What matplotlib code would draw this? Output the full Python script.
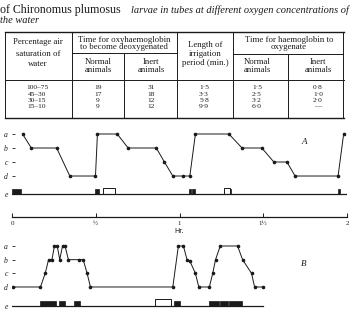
import matplotlib.pyplot as plt

W, H = 351, 318

# table values
pct_air = ["100–75", "45–30", "30–15", "15–10"]
deox_normal = ["19", "17", "9", "9"]
deox_inert = ["31", "18", "12", "12"]
irrigation = ["1·5", "3·3", "5·8", "9·9"]
oxy_normal = ["1·5", "2·5", "3·2", "6·0"]
oxy_inert = ["0·8", "1·0", "2·0", "—"]

# record A: time (min) and state (a=4, b=3, c=2, d=1)
a_time = [3.8, 6.9, 16.0, 20.7, 29.9, 30.6, 37.7, 41.6, 51.7, 54.6, 57.6,
          61.4, 63.7, 65.7, 77.7, 82.4, 89.5, 93.8, 98.5, 101.4, 116.8, 118.8]
a_level = [4, 3, 3, 1, 1, 4, 4, 3, 3, 2, 1, 1, 1, 4, 4, 3, 3, 2, 2, 1, 1, 4]
a_black = [(0, 3.3), (29.9, 1.2), (63.3, 0.8), (64.5, 0.9), (78.1, 0.5), (116.7, 0.8)]
a_open = [(32.7, 4.2), (75.8, 2.3)]

# record B
b_time = [0.5, 10.2, 11.9, 13.1, 14.3, 15.2, 16.2, 17.1, 18.1, 19.0,
          20.2, 24.0, 25.5, 26.9, 28.1, 57.6, 59.6, 61.4, 62.7, 63.7,
          65.7, 66.9, 70.7, 71.9, 72.9, 74.6, 80.8, 82.6, 85.8, 86.9, 90.0]
b_level = [1, 1, 2, 3, 3, 4, 4, 3, 4, 4, 3, 3, 3, 2, 1, 1, 4, 4, 3, 2.9,
           2, 1, 1, 2, 3, 4, 4, 3, 2, 1, 1]
b_black = [(10.2, 5.5), (16.9, 2.1), (22.1, 2.2), (57.9, 2.1), (70.7, 3.3),
           (74.5, 3.0), (77.9, 4.5)]
b_open = [(51.1, 5.7)]

hours = [0, 30, 60, 90, 120]
hour_labels = ["0", "½", "1", "1½", "2"]
levels = ["a", "b", "c", "d"]

serif = "Liberation Serif"
ink = "#1a1a1a"


def box(x0, y0, x1, y1):
    # pixel box (top-left origin) -> figure fractions
    return [x0 / W, 1 - y1 / H, (x1 - x0) / W, (y1 - y0) / H]


fig = plt.figure(figsize=(W / 100, H / 100), dpi=100)
bg = fig.add_axes([0, 0, 1, 1])
bg.set_xlim(0, W)
bg.set_ylim(H, 0)
bg.axis("off")

# caption
bg.text(0, 10, "of Chironomus plumosus", family=serif, fontsize=8.6,
        va="center", ha="left", color=ink)
bg.text(131, 10, "larvae in tubes at different oxygen concentrations of",
        family=serif, style="italic", fontsize=7.5, va="center", ha="left", color=ink)
bg.text(0, 20.5, "the water", family=serif, style="italic", fontsize=7.5,
        va="center", ha="left", color=ink)

# table rules
lw = 0.7
bg.plot([5, 344], [31.7, 31.7], color=ink, lw=1.0)
bg.plot([5, 344], [80, 80], color=ink, lw=lw)
bg.plot([5, 344], [117.7, 117.7], color=ink, lw=1.0)
for x in [5, 71.7, 176.7, 233.3, 343.3]:
    bg.plot([x, x], [31.7, 117.7], color=ink, lw=lw)
bg.plot([71.7, 176.7], [53.3, 53.3], color=ink, lw=lw)
bg.plot([233.3, 343.3], [54.3, 54.3], color=ink, lw=lw)
bg.plot([124, 124], [53.3, 117.7], color=ink, lw=lw)
bg.plot([288.3, 288.3], [54.3, 117.7], color=ink, lw=lw)

hkw = dict(family=serif, fontsize=6.3, ha="center", va="center", color=ink)
bg.text(38, 42, "Percentage air", **hkw)
bg.text(38, 54, "saturation of", **hkw)
bg.text(38, 64.5, "water", **hkw)
bg.text(124, 39.5, "Time for oxyhaemoglobin", **hkw)
bg.text(124, 47, "to become deoxygenated", **hkw)
bg.text(205, 45, "Length of", **hkw)
bg.text(205, 53.5, "irrigation", **hkw)
bg.text(205, 63, "period (min.)", **hkw)
bg.text(289, 39.5, "Time for haemoglobin to", **hkw)
bg.text(289, 47, "oxygenate", **hkw)
for xc, name in [(98, "Normal"), (151, "Inert"), (257, "Normal"), (318, "Inert")]:
    bg.text(xc, 62.5, name, **hkw)
    bg.text(xc, 69.5, "animals", **hkw)

row_y = [87.5, 94, 100.5, 107]
dkw = dict(hkw, fontsize=5.3)
cols = [(37, pct_air), (98, deox_normal), (151, deox_inert),
        (204, irrigation), (257, oxy_normal), (318, oxy_inert)]
for xc, vals in cols:
    for y, v in zip(row_y, vals):
        bg.text(xc, y, v, **dkw)


def record(ax, t, lev, black, opn, e, unit, label, tmax):
    ax.plot(t, lev, color=ink, lw=0.7, marker="o", ms=1.6, mfc=ink, mec=ink)
    ax.plot([0, tmax], [e, e], color=ink, lw=0.9)
    ax.broken_barh(black, (e, 5 / unit), facecolors=ink, edgecolors=ink, lw=0.5)
    ax.broken_barh(opn, (e, 6.5 / unit), facecolors="white", edgecolors=ink, lw=0.7)
    ax.set_xlim(0, 120)
    ax.set_yticks([4, 3, 2, 1, e])
    ax.set_yticklabels(levels + ["e"], family=serif, style="italic", fontsize=5.5)
    ax.tick_params(axis="y", direction="in", length=2.3, width=0.6, pad=3, colors=ink)
    ax.yaxis.get_major_ticks()[-1].tick1line.set_visible(False)
    ax.set_xticks([])
    for s in ax.spines.values():
        s.set_visible(False)
    ax.patch.set_alpha(0)
    ax.text(0.872, 0.80, label, transform=ax.transAxes, family=serif,
            style="italic", fontsize=6.5, color=ink, ha="center", va="center")


# record A: a=134px ... d=176px, e=194.5px
axA = fig.add_axes(box(12, 128, 347, 200))
axA.set_ylim(-0.32 - 5.5 / 14, 4 + 6 / 14)
record(axA, a_time, a_level, a_black, a_open, -0.32, 14, "A", 120)

# time scale
axT = fig.add_axes(box(12, 210, 347, 217.3))
axT.set_xlim(0, 120)
axT.set_yticks([])
for k in ["top", "left", "right"]:
    axT.spines[k].set_visible(False)
axT.spines["bottom"].set_linewidth(0.9)
axT.spines["bottom"].set_color(ink)
axT.set_xticks(hours)
axT.set_xticklabels(hour_labels, family=serif, fontsize=5)
axT.tick_params(axis="x", direction="in", length=3, width=0.7, pad=3, colors=ink)
axT.set_xlabel("Hr.", family="DejaVu Sans", fontsize=5, labelpad=1, color=ink)
axT.patch.set_alpha(0)

# record B: a=246px ... d=287px, e=305.7px
axB = fig.add_axes(box(12, 240, 347, 312))
axB.set_ylim(-0.37 - 6.3 / 13.67, 4 + 6 / 13.67)
record(axB, b_time, b_level, b_black, b_open, -0.37, 13.67, "B", 90)
axB.texts[-1].set_position((0.872, 0.66))

fig.savefig("out.png", dpi=100)
